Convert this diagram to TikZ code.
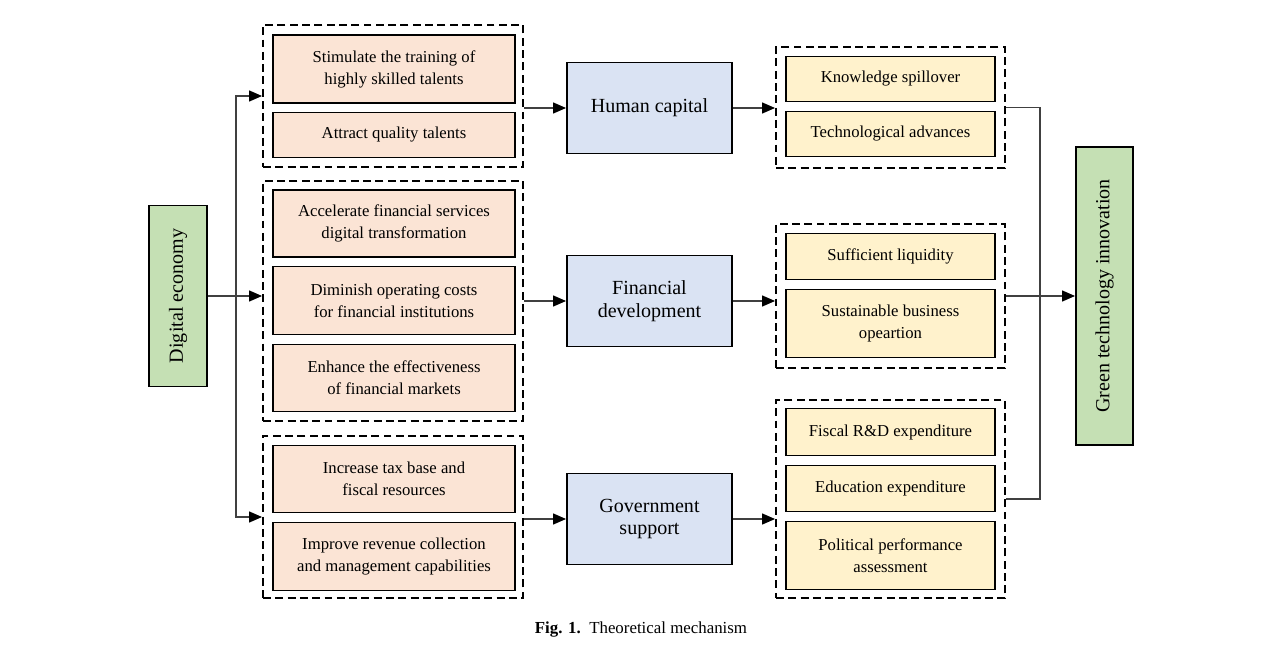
\documentclass[tikz,border=0pt]{standalone}
\usepackage{fontspec}
\setmainfont{Liberation Serif}
\usetikzlibrary{arrows.meta}
\definecolor{peach}{HTML}{FBE4D5}
\definecolor{paleblue}{HTML}{DAE3F3}
\definecolor{paleyellow}{HTML}{FFF2CC}
\definecolor{palegreen}{HTML}{C5E0B4}
\definecolor{linegray}{HTML}{404040}
\begin{document}
\begin{tikzpicture}[x=0.02cm, y=-0.02cm, >={Triangle[length=0.26cm,width=0.22cm,color=black]},
    box/.style={draw=black, line width=1.1pt, align=center, inner sep=1pt, font=\fontsize{9.5}{12.5}\selectfont},
    cause/.style={box, fill=peach, minimum width=4.84cm},
    effect/.style={box, fill=paleyellow, minimum width=4.18cm},
    channel/.style={box, fill=paleblue, minimum width=3.3cm, minimum height=1.82cm, font=\fontsize{11.4}{13}\selectfont},
    pole/.style={box, fill=palegreen, rotate=90, font=\fontsize{11.4}{13}\selectfont},
    group/.style={draw=black, line width=1.1pt, dash pattern=on 4.5pt off 2.5pt, inner sep=0pt, minimum width=5.2cm},
    rgroup/.style={group, minimum width=4.58cm},
    wire/.style={draw=linegray, line width=0.7pt}]
    \useasboundingbox (0,0) rectangle (1280,655);
    % dashed frames
    \node[group, minimum height=2.84cm] (g1) at (393,96) {};
    \node[group, minimum height=4.8cm] (g2) at (393,301) {};
    \node[group, minimum height=3.24cm] (g3) at (393,517) {};
    \node[rgroup, minimum height=2.42cm] (r1) at (890.5,107.5) {};
    \node[rgroup, minimum height=2.88cm] (r2) at (890.5,296) {};
    \node[rgroup, minimum height=3.96cm] (r3) at (890.5,499) {};
    % left column
    \node[cause, minimum height=1.36cm] (c1) at (394,69) {Stimulate the training of\\highly skilled talents};
    \node[cause, minimum height=0.9cm] (c2) at (394,135) {Attract quality talents};
    \node[cause, minimum height=1.34cm] (c3) at (394,223.5) {Accelerate financial services\\digital transformation};
    \node[cause, minimum height=1.36cm] (c4) at (394,300.5) {Diminish operating costs\\for financial institutions};
    \node[cause, minimum height=1.34cm] (c5) at (394,378) {Enhance the effectiveness\\of financial markets};
    \node[cause, minimum height=1.34cm] (c6) at (394,479) {Increase tax base and\\fiscal resources};
    \node[cause, minimum height=1.36cm] (c7) at (394,556.5) {Improve revenue collection\\and management capabilities};
    % channels
    \node[channel] (hc) at (649.5,108) {Human capital};
    \node[channel] (fd) at (649.5,301) {Financial\\development};
    \node[channel] (gs) at (649.5,519) {Government\\support};
    % right column
    \node[effect, minimum height=0.9cm] (e1) at (890.5,79) {Knowledge spillover};
    \node[effect, minimum height=0.9cm] (e2) at (890.5,134) {Technological advances};
    \node[effect, minimum height=0.92cm] (e3) at (890.5,256.5) {Sufficient liquidity};
    \node[effect, minimum height=1.36cm] (e4) at (890.5,323.5) {Sustainable business\\opeartion};
    \node[effect, minimum height=0.94cm] (e5) at (890.5,432) {Fiscal R\&D expenditure};
    \node[effect, minimum height=0.92cm] (e6) at (890.5,488.5) {Education expenditure};
    \node[effect, minimum height=1.36cm] (e7) at (890.5,555.5) {Political performance\\assessment};
    % end points
    \node[pole, minimum width=3.62cm, minimum height=1.16cm] (de) at (178,296) {Digital economy};
    \node[pole, minimum width=5.96cm, minimum height=1.14cm] (gti) at (1104.5,296) {Green technology innovation};
    \coordinate (split) at (236,296);
    \coordinate (join) at (1040,296);
    % connectors
    \draw[wire] (de.south) -- (split);
    \draw[wire, ->] (split) |- (g1.west);
    \draw[wire, ->] (split) -- (split -| g2.west);
    \draw[wire, ->] (split) |- (g3.west);
    \draw[wire, ->] (g1.east |- hc) -- (hc.west);
    \draw[wire, ->] (g2.east |- fd) -- (fd.west);
    \draw[wire, ->] (g3.east |- gs) -- (gs.west);
    \draw[wire, ->] (hc.east) -- (hc.east -| r1.west);
    \draw[wire, ->] (fd.east) -- (fd.east -| r2.west);
    \draw[wire, ->] (gs.east) -- (gs.east -| r3.west);
    \draw[wire] (r1.east) -| (join) |- (r3.east);
    \draw[wire, ->] (r2.east) -- (r2.east -| gti.north);
    % caption
    \node[font=\fontsize{9.6}{12}\selectfont] (cap) at (641,630) {\textbf{Fig. 1.}\ \ Theoretical mechanism};
\end{tikzpicture}
\end{document}
